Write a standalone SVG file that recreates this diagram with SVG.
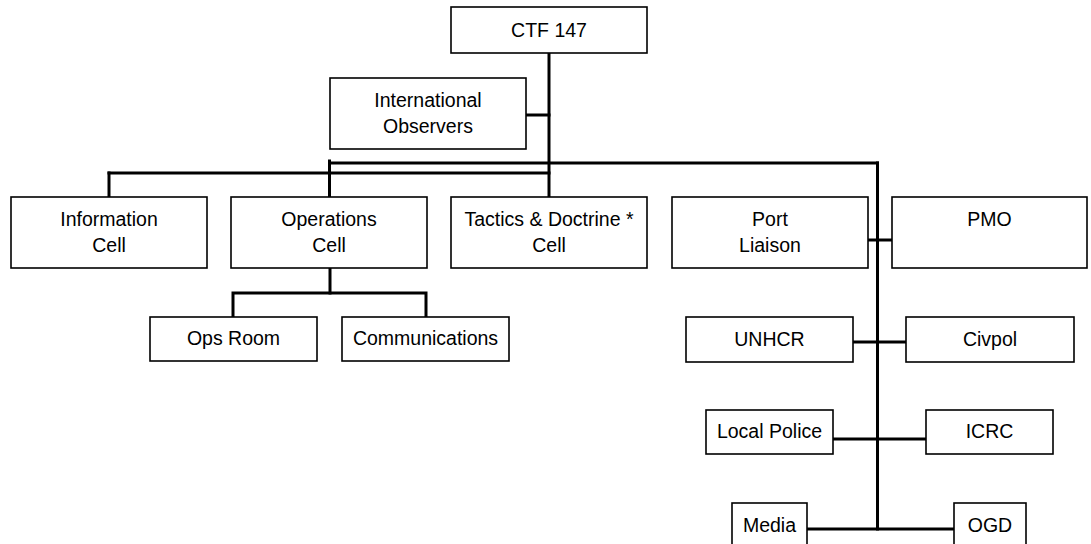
<svg xmlns="http://www.w3.org/2000/svg" width="1091" height="544" viewBox="0 0 1091 544">
<style>
.box{fill:#fff;stroke:#000;stroke-width:1.6}
.t{font-family:"Liberation Sans",Arial,sans-serif;font-size:19.5px;fill:#000;text-anchor:middle}
.c{stroke:#000;stroke-width:3;fill:none;stroke-linecap:square}
</style>
<rect width="1091" height="544" fill="#fff"/>
<g id="connectors">
<path class="c" d="M549,53 V197"/>
<path class="c" d="M526,115 H549"/>
<path class="c" d="M329.5,163 H877.5"/>
<path class="c" d="M109,173 H549"/>
<path class="c" d="M109,173 V197"/>
<path class="c" d="M329.5,161 V197"/>
<path class="c" d="M330,268 V293"/>
<path class="c" d="M233,293 H426 M233,293 V317 M426,293 V317"/>
<path class="c" d="M877.5,163 V529"/>
<path class="c" d="M868,240 H892"/>
<path class="c" d="M853,342 H906"/>
<path class="c" d="M833,439 H926"/>
<path class="c" d="M807,529 H954"/>
</g>
<g id="ctf147"><rect class="box" x="451" y="7" width="196" height="46"/><text class="t" x="549" y="37">CTF 147</text></g>
<g id="intl-observers"><rect class="box" x="330" y="78" width="196" height="71"/><text class="t" x="428" y="107">International</text><text class="t" x="428" y="133">Observers</text></g>
<g id="information-cell"><rect class="box" x="11" y="197" width="196" height="71"/><text class="t" x="109" y="226">Information</text><text class="t" x="109" y="252">Cell</text></g>
<g id="operations-cell"><rect class="box" x="231" y="197" width="196" height="71"/><text class="t" x="329" y="226">Operations</text><text class="t" x="329" y="252">Cell</text></g>
<g id="tactics-cell"><rect class="box" x="451" y="197" width="196" height="71"/><text class="t" x="549" y="226">Tactics &amp; Doctrine *</text><text class="t" x="549" y="252">Cell</text></g>
<g id="port-liaison"><rect class="box" x="672" y="197" width="196" height="71"/><text class="t" x="770" y="226">Port</text><text class="t" x="770" y="252">Liaison</text></g>
<g id="pmo"><rect class="box" x="892" y="197" width="195" height="71"/><text class="t" x="989.5" y="226">PMO</text></g>
<g id="ops-room"><rect class="box" x="150" y="317" width="167" height="44"/><text class="t" x="233.5" y="345">Ops Room</text></g>
<g id="communications"><rect class="box" x="342" y="317" width="167" height="44"/><text class="t" x="425.5" y="345">Communications</text></g>
<g id="unhcr"><rect class="box" x="686" y="317" width="167" height="45"/><text class="t" x="769.5" y="346">UNHCR</text></g>
<g id="civpol"><rect class="box" x="906" y="317" width="168" height="45"/><text class="t" x="990" y="346">Civpol</text></g>
<g id="local-police"><rect class="box" x="706" y="410" width="127" height="44"/><text class="t" x="769.5" y="438">Local Police</text></g>
<g id="icrc"><rect class="box" x="926" y="410" width="127" height="44"/><text class="t" x="989.5" y="438">ICRC</text></g>
<g id="media"><rect class="box" x="732" y="503" width="75" height="60"/><text class="t" x="769.5" y="532">Media</text></g>
<g id="ogd"><rect class="box" x="954" y="503" width="72" height="60"/><text class="t" x="990" y="532">OGD</text></g>
</svg>
